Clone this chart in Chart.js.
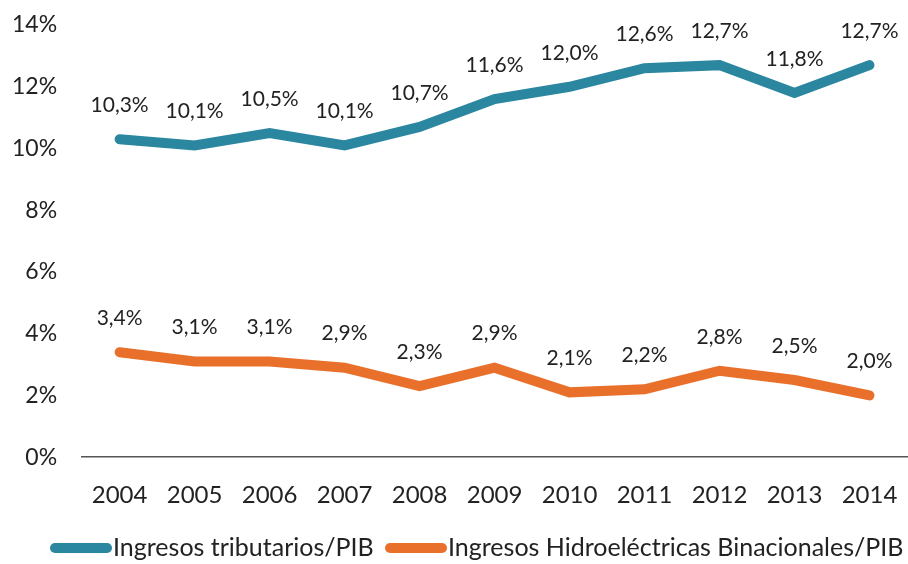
<!DOCTYPE html>
<html><head><meta charset="utf-8">
<script src="https://cdn.jsdelivr.net/npm/chart.js@4.4.1/dist/chart.umd.min.js"></script>
<style>html,body{margin:0;padding:0;background:#fff}#w{width:908px;height:564px}</style>
</head><body><div id="w"><canvas id="c" width="908" height="564"></canvas></div>
<script>
const categories = ["2004","2005","2006","2007","2008","2009","2010","2011","2012","2013","2014"];
const tributarios = [10.3,10.1,10.5,10.1,10.7,11.6,12.0,12.6,12.7,11.8,12.7];
const hidro = [3.4,3.1,3.1,2.9,2.3,2.9,2.1,2.2,2.8,2.5,2.0];
const seriesNames = ["Ingresos tributarios/PIB","Ingresos Hidroeléctricas Binacionales/PIB"];
const colors = ["#2B87A0","#E8702A"];
const FONT = "Lato, 'Open Sans', sans-serif";
const TXT = "#222";

const fmt = v => v.toFixed(1).replace('.', ',') + '%';

const labelPlugin = {
  id:'lbl',
  afterDatasetsDraw(chart){
    const ctx=chart.ctx; ctx.save();
    ctx.font = "21px " + FONT; ctx.fillStyle=TXT; ctx.textAlign='center'; ctx.textBaseline='middle';
    chart.data.datasets.forEach((ds,i)=>{
      chart.getDatasetMeta(i).data.forEach((pt,j)=>{
        ctx.fillText(fmt(ds.data[j]), pt.x, pt.y-34);
      });
    });
    ctx.restore();
  },
  afterDraw(chart){
    const ctx=chart.ctx; ctx.save();
    ctx.font = "25px " + FONT; ctx.fillStyle=TXT; ctx.textBaseline='middle'; ctx.textAlign='left';
    const y=548; const starts=[50,385];
    chart.data.datasets.forEach((ds,i)=>{
      const x=starts[i];
      ctx.strokeStyle=colors[i]; ctx.lineWidth=10; ctx.lineCap='round';
      ctx.beginPath(); ctx.moveTo(x+5,y); ctx.lineTo(x+57,y); ctx.stroke();
      ctx.fillText(ds.label, x+63, y);
    });
    ctx.restore();
  }
};

new Chart(document.getElementById('c'),{
  type:'line',
  data:{labels:categories,datasets:[
    {label:seriesNames[0],data:tributarios,borderColor:colors[0],backgroundColor:colors[0],borderWidth:10,borderCapStyle:'round',borderJoinStyle:'miter',pointRadius:0,tension:0},
    {label:seriesNames[1],data:hidro,borderColor:colors[1],backgroundColor:colors[1],borderWidth:10,borderCapStyle:'round',borderJoinStyle:'miter',pointRadius:0,tension:0}
  ]},
  options:{
    responsive:false,animation:false,
    layout:{padding:{top:25,right:1,left:9,bottom:50}},
    scales:{
      x:{offset:true,grid:{display:true,drawOnChartArea:false,drawTicks:true,tickLength:20,tickColor:'rgba(0,0,0,0)'},
         border:{display:true,color:'#555',width:1.5},
         ticks:{color:TXT,font:{family:FONT,size:24},padding:4}},
      y:{min:0,max:14,grid:{display:true,drawOnChartArea:false,drawTicks:true,tickLength:22,tickColor:'rgba(0,0,0,0)'},
         border:{display:false},
         ticks:{stepSize:2,color:TXT,font:{family:FONT,size:23},padding:3,callback:v=>v+'%'}}
    },
    plugins:{tooltip:{enabled:false},legend:{display:false}}
  },
  plugins:[labelPlugin]
});
</script></body></html>
